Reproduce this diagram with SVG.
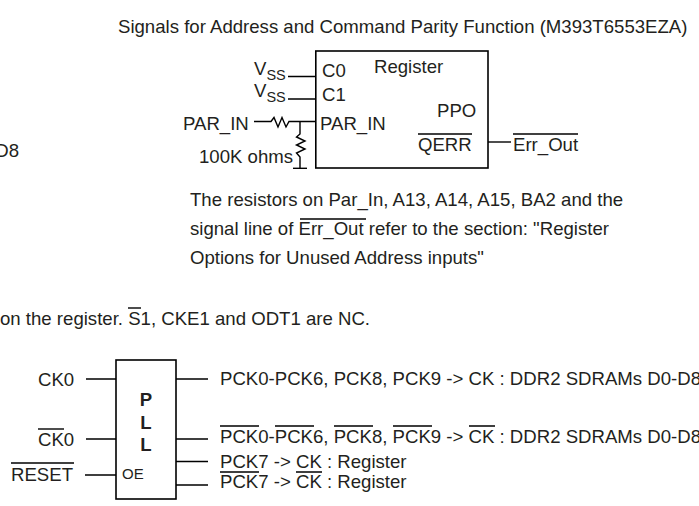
<svg xmlns="http://www.w3.org/2000/svg" width="699" height="506" viewBox="0 0 699 506">
<style>
text{font-family:"Liberation Sans",Arial,sans-serif;font-size:18.6px;fill:#231f20}
.w{fill:none;stroke:#000;stroke-width:1.4}
.b{fill:#fff;stroke:#000;stroke-width:1.6}
.o{stroke:#000;stroke-width:1.4;fill:none}
</style>
<rect width="699" height="506" fill="#fff"/>
<text x="118" y="33">Signals for Address and Command Parity Function (M393T6553EZA)</text>
<text x="19" y="157" text-anchor="end">D8</text>
<g id="connectors">
<path class="w" d="M288 76.500H316M288 99H316M254 121.500H268L271 121.500 274 117.500 278 127 282 117.500 286 127 289 121.500H316M300 121.500V134L296.500 137 305 141 296.500 145 305 149 296.500 153 300 157V168"/>
<path class="w" stroke-width="2" d="M293 168.300H307"/>
<path class="w" d="M488 142H511"/>
<path class="w" d="M86 379H116M176 379H208M86 439H116M176 439H208M85 475H118M176 461.500H208M176 485H208"/>
</g>
<g id="register">
<rect class="b" x="315.800" y="51" width="172.200" height="117"/>
<text x="322" y="77">C0</text>
<text x="322" y="100.500">C1</text>
<text x="374" y="73">Register</text>
<text x="320" y="130">PAR_IN</text>
<text x="437" y="117">PPO</text>
<text x="418" y="151">QERR</text>
<path class="o" d="M418 134H472"/>
</g>
<g id="vss0"><text x="254" y="75">V<tspan style="font-size:14.500px" dy="5">SS</tspan></text></g>
<g id="vss1"><text x="254" y="97">V<tspan style="font-size:14.500px" dy="5">SS</tspan></text></g>
<g id="par-in"><text x="183" y="130">PAR_IN</text></g>
<g id="r100k"><text x="199" y="163">100K ohms</text></g>
<g id="err-out"><text x="513" y="151">Err_Out</text><path class="o" d="M513 134H578"/></g>
<g id="note">
<text x="190" y="206">The resistors on Par_In, A13, A14, A15, BA2 and the</text>
<text x="190" y="235">signal line of Err_Out refer to the section: "Register</text>
<text x="190" y="264">Options for Unused Address inputs"</text>
<path class="o" d="M300 219H366"/>
</g>
<g id="s1-note">
<text x="0" y="325">on the register. S1, CKE1 and ODT1 are NC.</text>
<path class="o" d="M128 308H141"/>
</g>
<g id="pll">
<rect class="b" x="116" y="360" width="60" height="139"/>
<text x="146" y="405.500" text-anchor="middle" font-weight="700">P</text>
<text x="146" y="429" text-anchor="middle" font-weight="700">L</text>
<text x="146" y="451" text-anchor="middle" font-weight="700">L</text>
<text x="122" y="479" style="font-size:15px">OE</text>
</g>
<g id="ck0"><text x="38" y="386">CK0</text></g>
<g id="ck0b"><text x="38" y="446">CK0</text><path class="o" d="M38 429H64"/></g>
<g id="reset"><text x="11" y="480.500">RESET</text><path class="o" d="M11 463H74"/></g>
<g id="outputs">
<text x="220" y="385">PCK0-PCK6, PCK8, PCK9 -&gt; CK : DDR2 SDRAMs D0-D8</text>
<text x="220" y="443">PCK0-PCK6, PCK8, PCK9 -&gt; CK : DDR2 SDRAMs D0-D8</text>
<path class="o" d="M220 426H259M275 426H314M334 426H373M393 426H432M469 426H495"/>
<text x="220" y="468">PCK7 -&gt; CK : Register</text>
<text x="220" y="488">PCK7 -&gt; CK : Register</text>
<path class="o" d="M220 472H259M296 472H322"/>
</g>
</svg>
